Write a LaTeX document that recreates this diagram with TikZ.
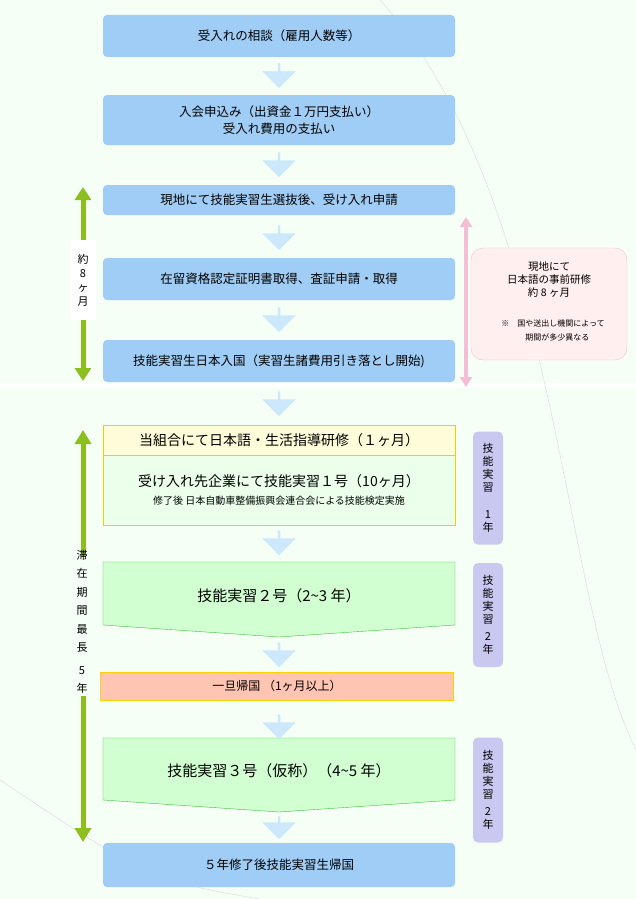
\documentclass[tikz,border=0pt]{standalone}
\usepackage{fontspec}
\setmainfont{Noto Sans CJK JP}
\usetikzlibrary{shapes.arrows,arrows.meta}
\definecolor{bblue}{RGB}{160,205,245}
\definecolor{lblue}{RGB}{205,232,252}
\definecolor{lgreen}{RGB}{140,190,30}
\definecolor{pinkA}{RGB}{245,190,215}
\definecolor{pillc}{RGB}{200,200,240}
\begin{document}
\begin{tikzpicture}[x=1pt,y=-1pt,
 bb/.style={rounded corners=4pt,fill=bblue,draw=none,minimum width=352pt,align=center,font=\fontsize{12.5}{17}\selectfont},
 da/.style={single arrow,shape border rotate=270,fill=lblue,draw=cyan!25,minimum width=32pt,single arrow head extend=3pt,minimum height=24pt,inner sep=0pt},
 pill/.style={rounded corners=5pt,fill=pillc,minimum width=30pt,align=center,font=\fontsize{11}{13}\selectfont}]
\useasboundingbox (0,0) rectangle (636,899);
\fill[green!4] (0,0) rectangle (636,899);
\fill[white] (0,383) rectangle (636,388);
\draw[gray!30] (380,0) .. controls (560,200) and (560,600) .. (636,750);
\draw[gray!30] (0,780) .. controls (150,880) .. (260,899);
% main boxes
\node[bb,minimum height=42pt] (b1) at (279,36) {受入れの相談（雇用人数等）};
\node[bb,minimum height=50pt] (b2) at (279,120) {入会申込み（出資金１万円支払い）\\受入れ費用の支払い};
\node[bb,minimum height=30pt] (b3) at (279,200) {現地にて技能実習生選抜後、受け入れ申請};
\node[bb,minimum height=42pt] (b4) at (279,279) {在留資格認定証明書取得、査証申請・取得};
\node[bb,minimum height=42pt] (b5) at (279,361) {技能実習生日本入国（実習生諸費用引き落とし開始)};
\node[fill=yellow!15,draw=yellow!60!orange,minimum width=352pt,minimum height=30pt,font=\fontsize{14}{16}\selectfont] (b6) at (279,440) {当組合にて日本語・生活指導研修（１ヶ月）};
\node[fill=green!8,draw=yellow!60!orange,minimum width=352pt,minimum height=70pt,align=center,anchor=north] (b7) at (279,455) {\fontsize{14}{18}\selectfont 受け入れ先企業にて技能実習１号（10ヶ月）\\[6pt]\fontsize{10}{12}\selectfont 修了後 日本自動車整備振興会連合会による技能検定実施};
\draw[fill=green!18,draw=green!50!gray] (103,562) -- (455,562) -- (455,625) -- (279,637) -- (103,625) -- cycle;
\node[font=\fontsize{15}{18}\selectfont] (b8) at (279,596) {技能実習２号（2\textasciitilde3 年）};
\node[fill=orange!45!red!30,draw=yellow!70!orange,minimum width=353pt,minimum height=28pt,font=\fontsize{12}{14}\selectfont] (b9) at (277,686) {一旦帰国 （1ヶ月以上）};
\draw[fill=green!18,draw=green!50!gray] (103,738) -- (455,738) -- (455,800) -- (279,812) -- (103,800) -- cycle;
\node[font=\fontsize{15}{18}\selectfont] (b10) at (279,771) {技能実習３号（仮称）（4\textasciitilde5 年）};
\node[bb,minimum height=44pt] (b11) at (279,865) {５年修了後技能実習生帰国};
% down arrows
\foreach \y in {75,164,237,319,403,542,654,726} \node[da] at (279,\y) {};
\node[da,minimum height=22pt] at (279,827) {};
% left green arrows
\draw[lgreen,line width=5pt,-{Triangle[width=16pt,length=13pt]}] (83,240) -- (83,187);
\draw[lgreen,line width=5pt,-{Triangle[width=16pt,length=13pt]}] (83,320) -- (83,381);
\node[fill=white,align=center,minimum width=26pt,minimum height=80pt,font=\fontsize{11}{14}\selectfont] (l1) at (83,280) {約\\8\\ヶ\\月};
\draw[lgreen,line width=5pt,-{Triangle[width=16pt,length=14pt]}] (83,557) -- (83,430);
\draw[lgreen,line width=5pt,-{Triangle[width=16pt,length=14pt]}] (83,696) -- (83,842);
\node[align=center,font=\fontsize{11}{18.5}\selectfont] (l2) at (82,622) {滞\\在\\期\\間\\最\\長\\[4pt]5\\年};
% pink
\draw[pinkA,line width=4pt,{Triangle[width=12pt,length=10pt]}-{Triangle[width=12pt,length=10pt]}] (466,217) -- (466,387);
\node[rounded corners=12pt,fill=pink!25,draw=pinkA,minimum width=156pt,minimum height=112pt] (pk) at (549,304) {};
\node[align=center,font=\fontsize{10.5}{13}\selectfont] at (549,280) {現地にて\\日本語の事前研修\\約 8 ヶ月};
\node[align=left,font=\fontsize{8}{14}\selectfont] at (553,330) {※\quad 国や送出し機関によって\\\qquad\quad 期間が多少異なる};
% pills
\node[pill,minimum height=113pt] (p1) at (488,488) {技\\能\\実\\習\\[14pt]1\\年};
\node[pill,minimum height=104pt] (p2) at (488,615) {技\\能\\実\\習\\[4pt]2\\年};
\node[pill,minimum height=105pt] (p3) at (488,790) {技\\能\\実\\習\\[4pt]2\\年};
\end{tikzpicture}
\end{document}
